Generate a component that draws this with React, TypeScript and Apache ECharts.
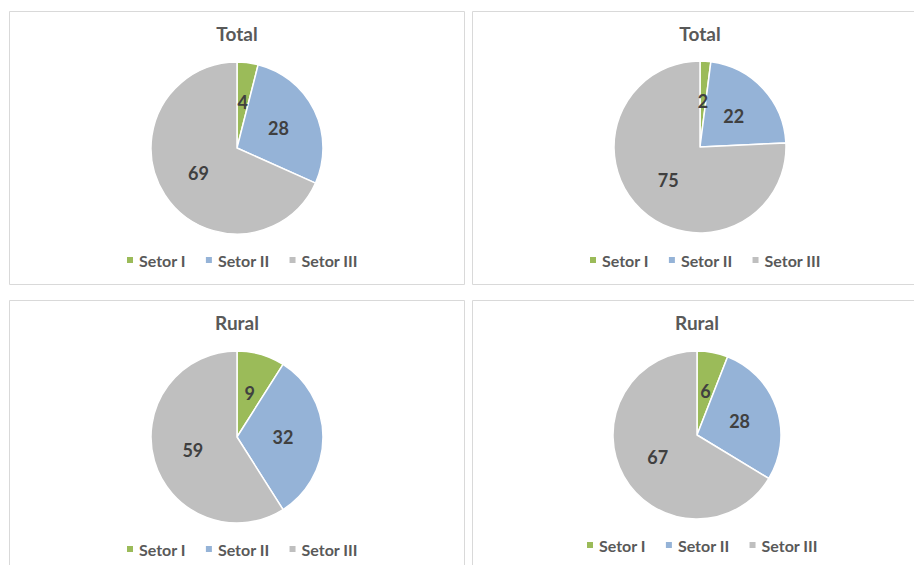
import React, { useEffect, useRef } from "react";
import * as echarts from "echarts";

const categories = ["Setor I", "Setor II", "Setor III"];
const titles = ["Total", "Total", "Rural", "Rural"];
const totalA = [4, 28, 69];
const totalB = [2, 22, 75];
const ruralA = [9, 32, 59];
const ruralB = [6, 28, 67];

const colors = ["#9BBB59", "#95B3D7", "#BFBFBF"];
const FONT = "Lato, 'Open Sans', sans-serif";

const panels = [
  { box: [9.5, 11.5, 455, 273], center: [237, 148], r: 86, titleY: 33, legendX: 125, legendY: 252, values: totalA },
  { box: [472.5, 11.5, 460, 273], center: [700, 147], r: 86, titleY: 33, legendX: 588, legendY: 252, values: totalB },
  { box: [9.5, 300.5, 455, 280], center: [237, 437], r: 86, titleY: 322, legendX: 125, legendY: 541, values: ruralA },
  { box: [472.5, 300.5, 460, 280], center: [697, 435], r: 84, titleY: 322, legendX: 585, legendY: 537, values: ruralB },
];

export default function App() {
  const ref = useRef<HTMLDivElement>(null);
  useEffect(() => {
    const chart = echarts.init(ref.current!, undefined, { renderer: "svg" });
    const graphic: any[] = [];
    panels.forEach((p, i) => {
      graphic.push({
        type: "rect",
        shape: { x: p.box[0], y: p.box[1], width: p.box[2], height: p.box[3] },
        style: { fill: "#fff", stroke: "#D9D9D9", lineWidth: 1 },
        z: -10,
        silent: true,
      });
      graphic.push({
        type: "text",
        x: p.center[0],
        y: p.titleY,
        style: {
          text: titles[i],
          fill: "#595959",
          font: `bold 19px ${FONT}`,
          textAlign: "center",
          textVerticalAlign: "middle",
        },
      });
    });
    chart.setOption({
      animation: false,
      color: colors,
      graphic,
      legend: panels.map((p) => ({
        left: p.legendX,
        top: p.legendY,
        itemWidth: 8,
        itemHeight: 8,
        itemGap: 18,
        icon: "rect",
        padding: 0,
        textStyle: { color: "#595959", fontSize: 16, fontWeight: "bold", fontFamily: FONT },
        data: categories,
      })),
      series: panels.map((p) => ({
        type: "pie",
        center: p.center,
        radius: p.r,
        startAngle: 90,
        clockwise: true,
        label: {
          show: true,
          position: "inside",
          color: "#404040",
          fontSize: 18,
          fontWeight: "bold",
          fontFamily: FONT,
          formatter: "{c}",
        },
        labelLine: { show: false },
        itemStyle: { borderColor: "#fff", borderWidth: 1.5 },
        emphasis: { disabled: true },
        data: categories.map((c, k) => ({ name: c, value: p.values[k] })),
      })),
    });
    return () => chart.dispose();
  }, []);
  return <div ref={ref} style={{ position: "fixed", left: 0, top: 0, width: 914, height: 565, background: "#fff" }} />;
}
